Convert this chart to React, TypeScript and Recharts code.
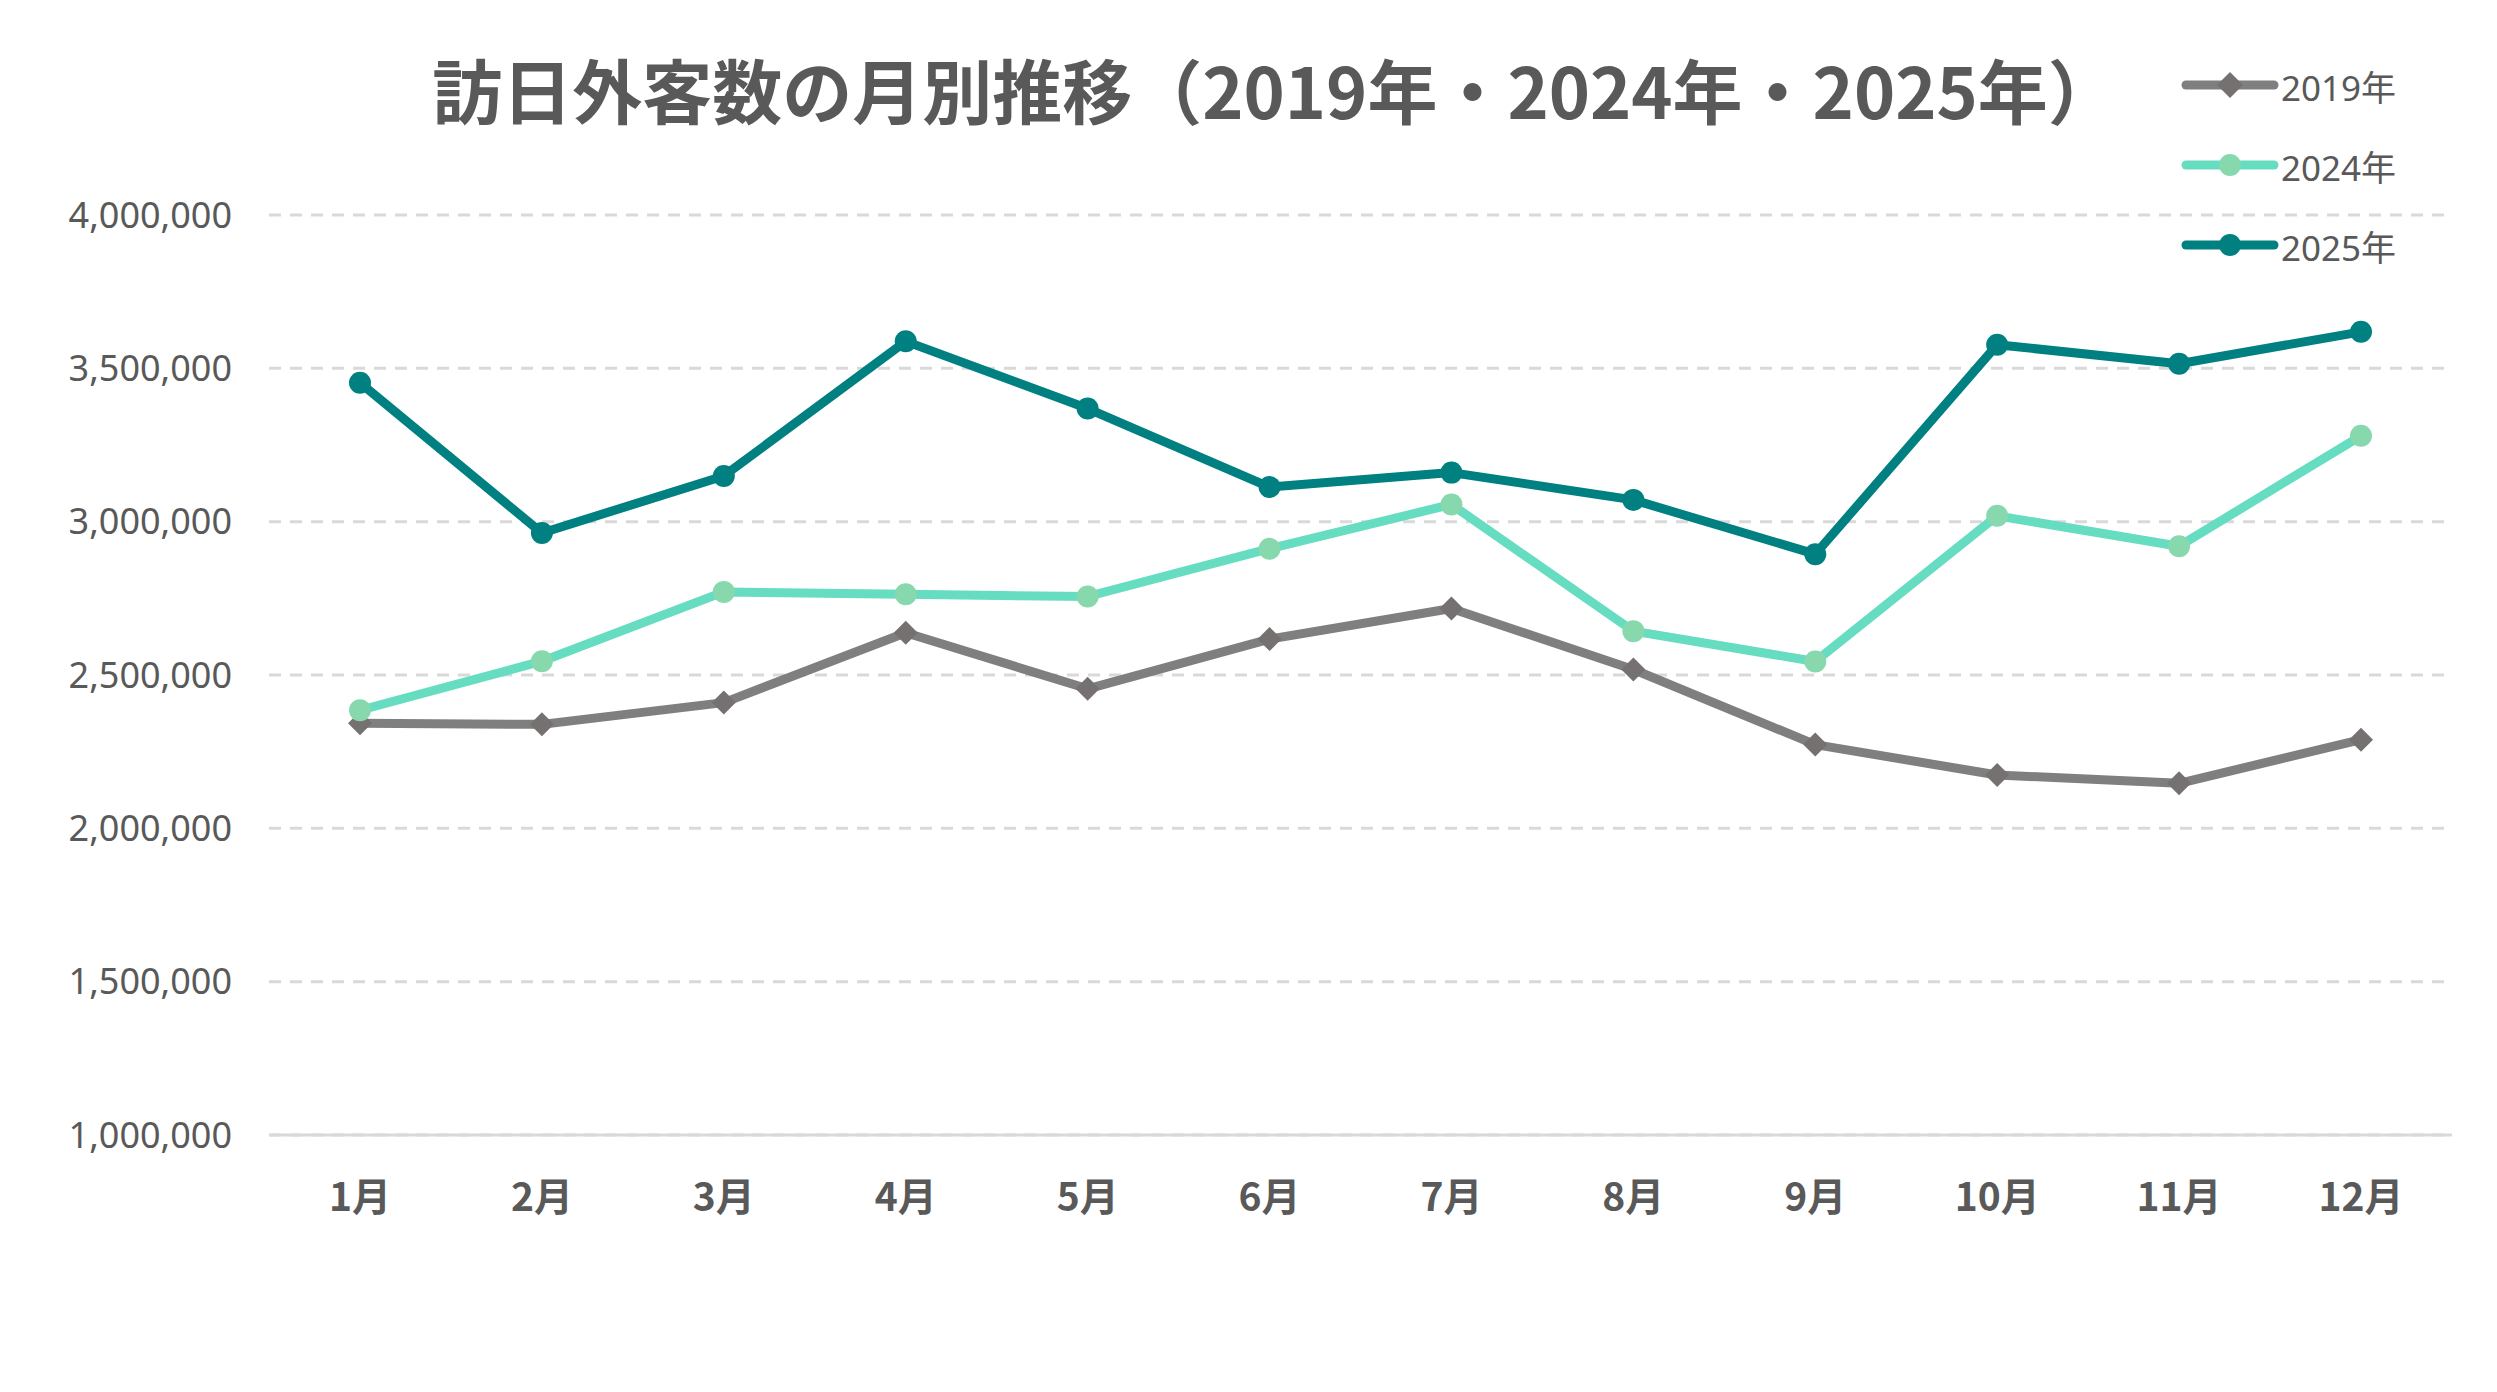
import React from 'react';
import {CartesianGrid, Line, LineChart, XAxis, YAxis} from 'recharts';

const months = ['1月', '2月', '3月', '4月', '5月', '6月', '7月', '8月', '9月', '10月', '11月', '12月'];
const visitors2019 = [2343000, 2339000, 2410000, 2638000, 2455000, 2617000, 2717000, 2518000, 2273000, 2174000, 2147000, 2289000];
const visitors2024 = [2385000, 2545000, 2771000, 2763000, 2756000, 2912000, 3056000, 2643000, 2544000, 3019000, 2920000, 3280000];
const visitors2025 = [3453000, 2963000, 3149000, 3588000, 3369000, 3113000, 3160000, 3071000, 2894000, 3577000, 3515000, 3619000];
const yTicks = [1000000, 1500000, 2000000, 2500000, 3000000, 3500000, 4000000];

const chartData = months.map((month, i) => ({
    month,
    y2019: visitors2019[i],
    y2024: visitors2024[i],
    y2025: visitors2025[i],
}));

const series = [
    {key: 'y2019', name: '2019年', line: '#7f7f7f', marker: '#767171', shape: 'diamond'},
    {key: 'y2024', name: '2024年', line: '#66dcc0', marker: '#88d8ae', shape: 'circle'},
    {key: 'y2025', name: '2025年', line: '#008080', marker: '#008080', shape: 'circle'},
];

const textColor = '#595959';
const fontStack = '"Noto Sans", "Noto Sans CJK JP", sans-serif';

const Diamond = (props: any) => {
    const {cx, cy, index} = props;
    if (cx == null || cy == null) return <g key={`d-${index}`} />;
    const s = 12;
    return (
        <polygon
            key={`d-${index}`}
            points={`${cx},${cy - s} ${cx + s},${cy} ${cx},${cy + s} ${cx - s},${cy}`}
            fill='#767171'
        />
    );
};

// legend drawn as an overlay so the plot keeps its full width
const LegendBox = () => (
    <div style={{position: 'absolute', left: 2181, top: 45, display: 'flex', flexDirection: 'column'}}>
        {series.map((s) => (
            <div key={s.key} style={{display: 'flex', alignItems: 'center', height: 80}}>
                <svg width={100} height={30} style={{overflow: 'visible'}}>
                    <line x1={5} y1={15} x2={93} y2={15} stroke={s.line} strokeWidth={9} strokeLinecap='round' />
                    {s.shape === 'diamond' ? (
                        <polygon points='49,2 62,15 49,28 36,15' fill={s.marker} />
                    ) : (
                        <circle cx={49} cy={15} r={11} fill={s.marker} />
                    )}
                </svg>
                <span style={{fontFamily: fontStack, fontSize: 35, color: textColor}}>
                    {s.name}
                </span>
            </div>
        ))}
    </div>
);

const App: React.FC = () => {
    return (
        <div style={{position: 'absolute', left: 0, top: 0, width: 2497, height: 1392, background: '#fff'}}>
            <svg
                width={2497}
                height={160}
                style={{position: 'absolute', left: 0, top: 0, pointerEvents: 'none'}}
            >
                <text
                    x={1275}
                    y={119}
                    textAnchor='middle'
                    fontFamily='"Noto Sans CJK JP", sans-serif'
                    fontWeight={700}
                    fontSize={70}
                    fill={textColor}
                >
                    訪日外客数の月別推移（2019年・2024年・2025年）
                </text>
            </svg>
            <LineChart
                width={2497}
                height={1392}
                data={chartData}
                margin={{top: 215, right: 45, left: 0, bottom: 157}}
            >
                <CartesianGrid
                    vertical={false}
                    stroke='#d9d9d9'
                    strokeWidth={3}
                    strokeDasharray='12 9'
                />
                <XAxis
                    dataKey='month'
                    padding={{left: 91, right: 91}}
                    axisLine={{stroke: '#d9d9d9', strokeWidth: 3}}
                    tickLine={false}
                    tickSize={0}
                    tickMargin={48}
                    height={100}
                    interval={0}
                    tick={{fill: textColor, fontSize: 39, fontWeight: 700, fontFamily: '"Noto Sans CJK JP", sans-serif'}}
                />
                <YAxis
                    domain={[1000000, 4000000]}
                    ticks={yTicks}
                    width={269}
                    axisLine={false}
                    tickLine={false}
                    tickSize={0}
                    tickMargin={37}
                    tickFormatter={(v: number) => v.toLocaleString('en-US')}
                    tick={{fill: textColor, fontSize: 36, fontFamily: fontStack}}
                />
                {series.map((s) => (
                    <Line
                        key={s.key}
                        dataKey={s.key}
                        name={s.name}
                        stroke={s.line}
                        strokeWidth={9}
                        strokeLinejoin='round'
                        dot={s.shape === 'diamond' ? Diamond : {r: 11, fill: s.marker, stroke: 'none'}}
                        activeDot={false}
                        isAnimationActive={false}
                    />
                ))}
            </LineChart>
            <LegendBox />
        </div>
    );
};

export default App;
